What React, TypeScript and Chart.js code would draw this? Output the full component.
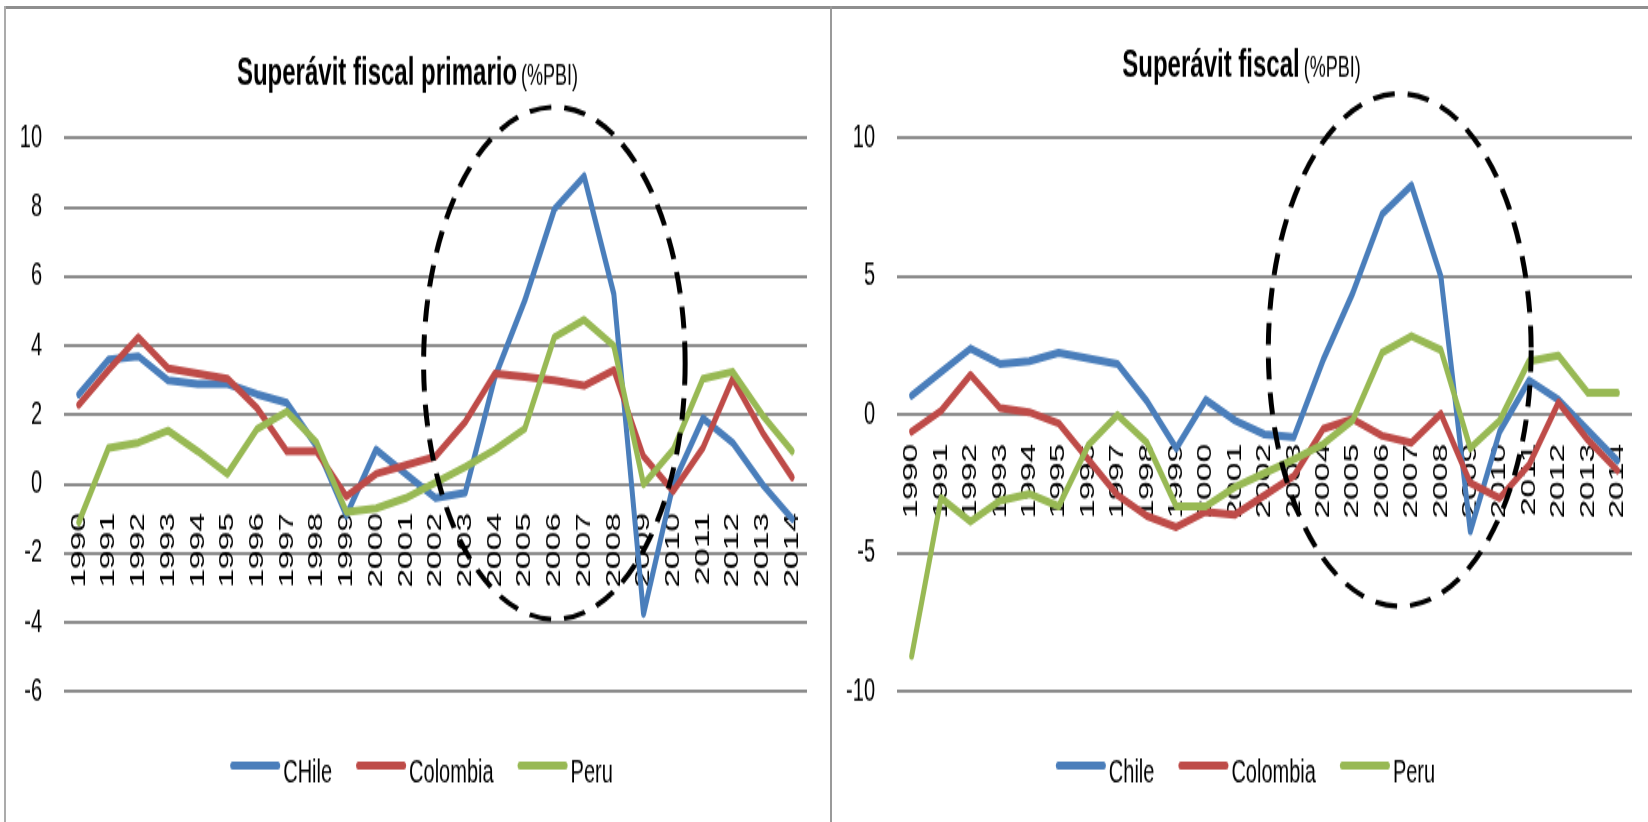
import React, { useEffect, useRef } from "react";
import { Chart, registerables } from "chart.js";

Chart.register(...registerables);

// ---------- data ----------
const years = [
  "1990", "1991", "1992", "1993", "1994", "1995", "1996", "1997", "1998", "1999",
  "2000", "2001", "2002", "2003", "2004", "2005", "2006", "2007", "2008", "2009",
  "2010", "2011", "2012", "2013", "2014",
];

// Superávit fiscal primario (%PBI)
const primChile = [2.6, 3.6, 3.7, 3.0, 2.9, 2.9, 2.6, 2.35, 1.1, -0.9, 1.0, 0.3, -0.4, -0.25, 3.1, 5.3, 7.95, 8.9, 5.5, -3.75, 0.0, 1.9, 1.2, 0.0, -1.0];
const primColombia = [2.3, 3.3, 4.25, 3.35, 3.2, 3.05, 2.2, 0.95, 0.95, -0.35, 0.3, 0.55, 0.8, 1.8, 3.2, 3.1, 3.0, 2.85, 3.3, 0.8, -0.2, 1.05, 3.05, 1.5, 0.2];
const primPeru = [-1.1, 1.05, 1.2, 1.55, 0.95, 0.3, 1.6, 2.1, 1.2, -0.8, -0.7, -0.4, 0.05, 0.5, 1.0, 1.6, 4.25, 4.75, 4.0, 0.0, 1.0, 3.05, 3.25, 2.0, 0.95];

// Superávit fiscal (%PBI)
const fiscChile = [0.7, 1.55, 2.4, 1.85, 1.95, 2.25, 2.05, 1.85, 0.5, -1.2, 0.55, -0.2, -0.7, -0.8, 2.0, 4.4, 7.25, 8.3, 5.0, -4.2, -0.6, 1.25, 0.55, -0.55, -1.65];
const fiscColombia = [-0.6, 0.15, 1.45, 0.25, 0.1, -0.3, -1.6, -2.9, -3.65, -4.05, -3.5, -3.6, -2.9, -2.2, -0.5, -0.15, -0.75, -1.0, 0.05, -2.45, -3.0, -1.8, 0.45, -0.9, -2.0];
const fiscPeru = [-8.7, -3.0, -3.85, -3.1, -2.85, -3.3, -1.1, 0.0, -1.0, -3.3, -3.3, -2.6, -2.1, -1.6, -1.05, -0.2, 2.25, 2.85, 2.35, -1.2, -0.2, 1.95, 2.15, 0.8, 0.8];

const primTitle = ["Superávit fiscal primario", "(%PBI)"];
const fiscTitle = ["Superávit fiscal", "(%PBI)"];
const primLegend = ["CHile", "Colombia", "Peru"];
const fiscLegend = ["Chile", "Colombia", "Peru"];
const primRange = [-6, 10, 2]; // min, max, step
const fiscRange = [-10, 10, 5];
// dashed ellipse: centre (category index, value), radius (categories, value units)
const primEllipse = [16, 3.5, 4.4, 7.4];
const fiscEllipse = [16.6, 2.35, 4.47, 9.26];

const seriesColors = ["#4A7EBB", "#BE4B48", "#98B954"];

// ---------- look ----------
const SY = 1.6; // vertical stretch of the original picture
const FONT = "'Liberation Sans', Arial, sans-serif";
const CANVAS_H = 514;

const decorPlugin = {
  id: "decor",
  afterDatasetsDraw(chart: any, _args: any, opts: any) {
    const ctx = chart.ctx;
    const xs = chart.scales.x;
    const ys = chart.scales.y;
    const [ci, cv, rxc, ryv] = opts.ellipse;
    const cx = xs.getPixelForValue(ci);
    const rx = xs.getPixelForValue(ci + rxc) - cx;
    const cy = ys.getPixelForValue(cv);
    const ry = ys.getPixelForValue(cv - ryv) - cy;
    ctx.save();
    ctx.scale(1, 1 / SY);
    ctx.beginPath();
    ctx.ellipse(cx, cy * SY, rx, ry * SY, 0, 0, Math.PI * 2);
    ctx.setLineDash([22, 13]);
    ctx.lineWidth = 5;
    ctx.strokeStyle = "#000";
    ctx.stroke();
    ctx.restore();
  },
  afterDraw(chart: any, _args: any, opts: any) {
    const ctx = chart.ctx;
    ctx.save();
    ctx.fillStyle = "#000";
    ctx.textBaseline = "alphabetic";
    ctx.textAlign = "left";
    // title
    const [t1, t2] = opts.title;
    const boldFont = `bold 24px ${FONT}`;
    const normFont = `18px ${FONT}`;
    ctx.font = boldFont;
    const w1 = ctx.measureText(t1).width;
    ctx.font = normFont;
    const w2 = ctx.measureText(t2).width;
    const gap = 4;
    let tx = chart.width / 2 - (w1 + gap + w2) / 2 + opts.titleShift;
    ctx.font = boldFont;
    ctx.fillText(t1, tx, opts.titleY);
    ctx.font = normFont;
    ctx.fillText(t2, tx + w1 + gap, opts.titleY);

    // legend
    ctx.font = `20px ${FONT}`;
    const lineLen = 45;
    const cap = 2.5;
    const textGap = 3;
    const itemGap = 24;
    const labels: string[] = opts.legend;
    const widths = labels.map((l) => cap * 2 + lineLen + textGap + ctx.measureText(l).width);
    const total = widths.reduce((a, b) => a + b, 0) + itemGap * (labels.length - 1);
    let lx = chart.width / 2 - total / 2 + opts.legendShift;
    labels.forEach((l, i) => {
      ctx.beginPath();
      ctx.lineCap = "round";
      ctx.lineWidth = 5;
      ctx.strokeStyle = seriesColors[i];
      ctx.moveTo(lx + cap, opts.legendY);
      ctx.lineTo(lx + cap + lineLen, opts.legendY);
      ctx.stroke();
      ctx.fillStyle = "#000";
      ctx.fillText(l, lx + cap * 2 + lineLen + textGap, opts.legendTextY);
      lx += widths[i] + itemGap;
    });
    ctx.restore();
  },
};

type Spec = {
  width: number;
  padRight: number;
  yWidth: number;
  series: number[][];
  range: number[];
  title: string[];
  titleY: number;
  titleShift: number;
  legend: string[];
  ellipse: number[];
};

function LineChart({ spec }: { spec: Spec }) {
  const ref = useRef<HTMLCanvasElement | null>(null);
  useEffect(() => {
    if (!ref.current) return;
    const datasets = spec.series.map((d, i) => ({
      label: spec.legend[i],
      data: d,
      borderColor: seriesColors[i],
      backgroundColor: seriesColors[i],
      borderWidth: 5,
      pointRadius: 0,
      pointHoverRadius: 0,
      tension: 0,
      borderCapStyle: "round" as const,
      borderJoinStyle: "round" as const,
      order: spec.series.length - 1 - i,
    }));
    const chart = new Chart(ref.current, {
      type: "line",
      data: { labels: years, datasets },
      plugins: [decorPlugin],
      options: {
        animation: false,
        responsive: false,
        devicePixelRatio: 1,
        layout: { padding: { top: 86.4, bottom: CANVAS_H - 432.4, left: 0, right: spec.padRight } },
        plugins: {
          legend: { display: false },
          title: { display: false },
          tooltip: { enabled: false },
          decor: {
            title: spec.title,
            titleY: spec.titleY,
            titleShift: spec.titleShift,
            legend: spec.legend,
            legendShift: 6,
            legendY: 478.6,
            legendTextY: 489,
            ellipse: spec.ellipse,
          },
        } as any,
        scales: {
          x: {
            type: "category",
            position: { y: 0 } as any,
            offset: true,
            grid: { display: false, drawTicks: false },
            border: { display: false },
            ticks: {
              autoSkip: false,
              minRotation: 90,
              maxRotation: 90,
              padding: 18,
              color: "#000",
              font: { family: FONT, size: 21 },
            },
            afterFit: (s: any) => {
              s.height = 0;
              s.paddingLeft = 0;
              s.paddingRight = 0;
              s.paddingTop = 0;
              s.paddingBottom = 0;
            },
          },
          y: {
            min: spec.range[0],
            max: spec.range[1],
            ticks: {
              stepSize: spec.range[2],
              padding: 22,
              color: "#000",
              font: { family: FONT, size: 20 },
            },
            grid: { color: "#8c8c8c", lineWidth: 2, drawTicks: false },
            border: { display: false },
            afterFit: (s: any) => {
              s.width = spec.yWidth;
              s.paddingTop = 0;
              s.paddingBottom = 0;
            },
          },
        },
      },
    });
    return () => chart.destroy();
  }, [spec]);
  return (
    <div
      style={{
        position: "absolute",
        left: 0,
        top: 0,
        width: spec.width,
        height: CANVAS_H,
        transform: `scaleY(${SY})`,
        transformOrigin: "0 0",
      }}
    >
      <canvas ref={ref} width={spec.width} height={CANVAS_H} style={{ display: "block" }} />
    </div>
  );
}

const leftSpec: Spec = {
  width: 831,
  padRight: 24,
  yWidth: 64,
  series: [primChile, primColombia, primPeru],
  range: primRange,
  title: primTitle,
  titleY: 53.1,
  titleShift: -8,
  legend: primLegend,
  ellipse: primEllipse,
};

const rightSpec: Spec = {
  width: 817,
  padRight: 16,
  yWidth: 66,
  series: [fiscChile, fiscColombia, fiscPeru],
  range: fiscRange,
  title: fiscTitle,
  titleY: 48.1,
  titleShift: 2,
  legend: fiscLegend,
  ellipse: fiscEllipse,
};

export default function App() {
  return (
    <div
      style={{
        position: "fixed",
        left: 0,
        top: 0,
        width: 1648,
        height: 822,
        background: "#fff",
        overflow: "hidden",
      }}
    >
      <div style={{ position: "absolute", left: 0, top: 0, width: 831, height: 822 }}>
        <LineChart spec={leftSpec} />
      </div>
      <div style={{ position: "absolute", left: 831, top: 0, width: 817, height: 822 }}>
        <LineChart spec={rightSpec} />
      </div>
      <div style={{ position: "absolute", left: 4, top: 6, width: 1644, height: 3, background: "#8f8f8f" }} />
      <div style={{ position: "absolute", left: 4, top: 6, width: 2, height: 816, background: "#ababab" }} />
      <div style={{ position: "absolute", left: 830, top: 6, width: 2, height: 816, background: "#9a9a9a" }} />
    </div>
  );
}
